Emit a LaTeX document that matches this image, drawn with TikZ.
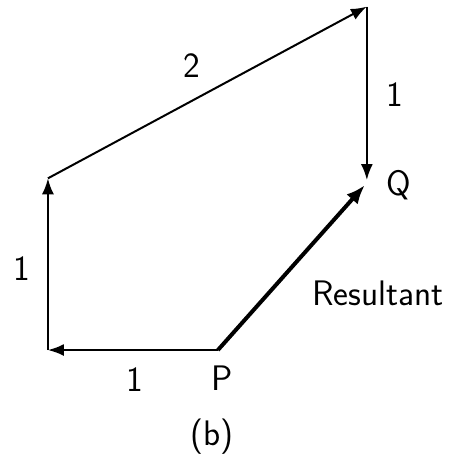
\documentclass[tikz,border=0pt]{standalone}
\usepackage{tikz}
\usetikzlibrary{arrows.meta,positioning}
\tikzset{
  vec/.style={-{Latex[length=8pt,width=6pt]}, line width=1pt},
  res/.style={-{Latex[length=9.5pt,width=7.5pt]}, line width=2pt},
  lbl/.style={font=\fontsize{17.8}{20}\selectfont\sffamily, inner sep=1pt}
}
\begin{document}
\begin{tikzpicture}[x=3cm, y=3cm]
  \useasboundingbox (-1.282,-0.635) rectangle (1.418,2.059);
  \coordinate (P) at (0,0);
  \coordinate (A) at (-1,0);
  \coordinate (B) at (-1,1.01);
  \coordinate (C) at (0.876,2.02);
  \coordinate (Q) at (0.876,1.0);
  \coordinate (R) at (0.864,0.97);
  \draw[vec] (P) -- (A);
  \draw[vec] (A) -- (B);
  \draw[vec] (B) -- (C);
  \draw[vec] (C) -- (Q);
  \draw[res] (P) -- (R);
  \node[lbl] (l2) at (-0.153,1.676) {2};
  \node[lbl] (l1r) at (1.041,1.5) {1};
  \node[lbl] (lq) at (1.065,0.97) {Q};
  \node[lbl] (l1l) at (-1.153,0.482) {1};
  \node[lbl] (lres) at (0.94,0.335) {Resultant};
  \node[lbl] (l1b) at (-0.488,-0.176) {1};
  \node[lbl] (lp) at (0.024,-0.165) {P};
  \node[lbl] (cap) at (-0.035,-0.512) {(b)};
\end{tikzpicture}
\end{document}
